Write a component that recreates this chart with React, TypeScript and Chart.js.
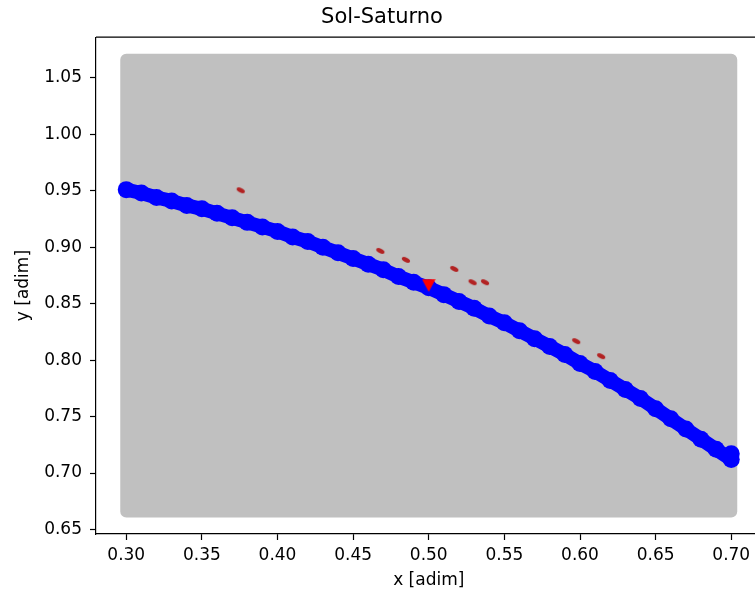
import React, { useEffect, useRef } from "react";
import { Chart, registerables } from "chart.js";

Chart.register(...registerables);

const TITLE = "Sol-Saturno";
const X_LABEL = "x [adim]";
const Y_LABEL = "y [adim]";

const X_TICKS = [0.3, 0.35, 0.4, 0.45, 0.5, 0.55, 0.6, 0.65, 0.7];
const Y_TICKS = [0.65, 0.7, 0.75, 0.8, 0.85, 0.9, 0.95, 1.0, 1.05];
const X_MIN = 0.28;
const X_MAX = 0.72;
const Y_MIN = 0.646;
const Y_MAX = 1.086;

// gray region of sampled initial conditions (corners)
const GRID_X = [0.3, 0.7, 0.7, 0.3, 0.3];
const GRID_Y = [0.666, 0.666, 1.066, 1.066, 0.666];

// Saturn trajectory
const ORBIT_X = [
  0.3, 0.31, 0.32, 0.33, 0.34, 0.35, 0.36, 0.37, 0.38, 0.39, 0.4, 0.41, 0.42, 0.43,
  0.44, 0.45, 0.46, 0.47, 0.48, 0.49, 0.5, 0.51, 0.52, 0.53, 0.54, 0.55, 0.56, 0.57,
  0.58, 0.59, 0.6, 0.61, 0.62, 0.63, 0.64, 0.65, 0.66, 0.67, 0.68, 0.69, 0.7, 0.7,
];
const ORBIT_Y = [
  0.951, 0.948, 0.944, 0.941, 0.937, 0.934, 0.93, 0.926, 0.922, 0.918, 0.914, 0.909,
  0.905, 0.9, 0.895, 0.89, 0.885, 0.88, 0.874, 0.869, 0.864, 0.858, 0.852, 0.846,
  0.839, 0.833, 0.826, 0.819, 0.812, 0.805, 0.797, 0.79, 0.782, 0.774, 0.766, 0.757,
  0.748, 0.739, 0.73, 0.721, 0.712, 0.717,
];

// small bodies
const BODY_X = [0.3757, 0.468, 0.4849, 0.5169, 0.529, 0.5372, 0.5975, 0.614];
const BODY_Y = [0.9504, 0.8967, 0.8888, 0.8808, 0.869, 0.869, 0.8168, 0.8035];

// L4 point
const L4_X = [0.5];
const L4_Y = [0.866];

const zip = (xs: number[], ys: number[]) => xs.map((x, i) => ({ x, y: ys[i] }));

export default function App() {
  const ref = useRef<HTMLCanvasElement>(null);

  useEffect(() => {
    const canvas = ref.current;
    if (!canvas) return;

    const ell = document.createElement("canvas");
    ell.width = 12;
    ell.height = 10;
    const ec = ell.getContext("2d")!;
    ec.fillStyle = "#b22222";
    ec.beginPath();
    ec.ellipse(6, 5, 4.4, 2.3, 0.45, 0, Math.PI * 2);
    ec.fill();

    const tri = document.createElement("canvas");
    tri.width = 14;
    tri.height = 13;
    const tc = tri.getContext("2d")!;
    tc.fillStyle = "#ff0000";
    tc.beginPath();
    tc.moveTo(0.3, 0.3);
    tc.lineTo(13.7, 0.3);
    tc.lineTo(7, 12.8);
    tc.closePath();
    tc.fill();

    const frame = {
      id: "frame",
      afterDraw(chart: any) {
        const { ctx, chartArea } = chart;
        ctx.save();
        ctx.strokeStyle = "#000";
        ctx.lineWidth = 1.2;
        ctx.beginPath();
        ctx.moveTo(chartArea.left, chartArea.top);
        ctx.lineTo(chartArea.right, chartArea.top);
        ctx.lineTo(chartArea.right, chartArea.bottom);
        ctx.stroke();
        ctx.restore();
      },
    };

    const font = { family: "DejaVu Sans", size: 17 };

    const chart = new Chart(canvas, {
      type: "scatter",
      data: {
        datasets: [
          {
            type: "scatter",
            data: zip(L4_X, L4_Y),
            pointStyle: tri as any,
            pointRadius: 5,
            order: 0,
          },
          {
            type: "scatter",
            data: zip(BODY_X, BODY_Y),
            pointStyle: ell as any,
            pointRadius: 4,
            order: 1,
          },
          {
            type: "line",
            data: zip(ORBIT_X, ORBIT_Y),
            showLine: true,
            fill: false,
            borderWidth: 14,
            borderColor: "#0000ff",
            borderCapStyle: "round",
            borderJoinStyle: "round",
            tension: 0,
            pointRadius: 8.5,
            pointBorderWidth: 0,
            pointBackgroundColor: "#0000ff",
            backgroundColor: "#0000ff",
            order: 2,
          } as any,
          {
            type: "line",
            data: zip(GRID_X, GRID_Y),
            fill: "shape",
            backgroundColor: "#c0c0c0",
            borderColor: "#c0c0c0",
            borderWidth: 12,
            borderJoinStyle: "round",
            pointRadius: 0,
            tension: 0,
            order: 3,
          } as any,
        ],
      },
      options: {
        animation: false,
        responsive: false,
        devicePixelRatio: 1,
        events: [],
        layout: { padding: { left: 0, right: 6, top: 0, bottom: 0 } },
        plugins: {
          legend: { display: false },
          tooltip: { enabled: false },
          title: {
            display: true,
            text: TITLE,
            color: "#000",
            font: { family: "DejaVu Sans", size: 21, weight: "normal" },
            padding: { top: 5, bottom: 7 },
          },
        },
        scales: {
          x: {
            type: "linear",
            min: X_MIN,
            max: X_MAX,
            afterBuildTicks: (s: any) => {
              s.ticks = X_TICKS.map((v) => ({ value: v }));
            },
            afterFit: (s: any) => {
              s.height = 60;
            },
            ticks: {
              color: "#000",
              font,
              padding: 5,
              maxRotation: 0,
              callback: (v: any) => Number(v).toFixed(2),
            },
            grid: {
              drawOnChartArea: false,
              drawTicks: true,
              tickLength: 6,
              tickColor: "#000",
              tickWidth: 1.2,
            },
            border: { display: true, color: "#000", width: 1.2 },
            title: {
              display: true,
              text: X_LABEL,
              color: "#000",
              font,
              padding: { top: 0, bottom: 3 },
            },
          },
          y: {
            type: "linear",
            min: Y_MIN,
            max: Y_MAX,
            afterBuildTicks: (s: any) => {
              s.ticks = Y_TICKS.map((v) => ({ value: v }));
            },
            afterFit: (s: any) => {
              s.width = 96;
            },
            ticks: {
              color: "#000",
              font,
              padding: 8,
              callback: (v: any) => Number(v).toFixed(2),
            },
            grid: {
              drawOnChartArea: false,
              drawTicks: true,
              tickLength: 6,
              tickColor: "#000",
              tickWidth: 1.2,
            },
            border: { display: true, color: "#000", width: 1.2 },
            title: {
              display: true,
              text: Y_LABEL,
              color: "#000",
              font,
              padding: { top: 13, bottom: 0 },
            },
          },
        },
      },
      plugins: [frame],
    } as any);

    return () => chart.destroy();
  }, []);

  return (
    <div
      style={{
        position: "absolute",
        left: 0,
        top: 0,
        width: 755,
        height: 594,
        overflow: "hidden",
        background: "#fff",
      }}
    >
      <canvas ref={ref} width={770} height={594} style={{ display: "block" }} />
    </div>
  );
}
